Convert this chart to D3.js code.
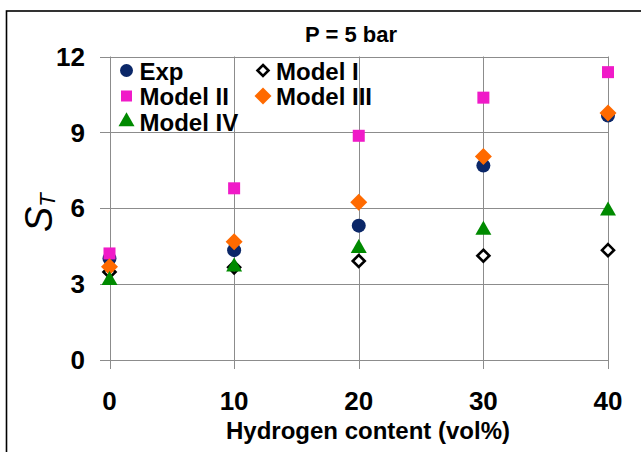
<!DOCTYPE html>
<html>
<head>
<meta charset="utf-8">
<script src="https://cdn.jsdelivr.net/npm/d3@7"></script>
<style>
  html, body { margin: 0; padding: 0; background: #fff; }
  svg { display: block; font-family: "Liberation Sans", Arial, sans-serif; }
</style>
</head>
<body>
<svg id="chart" width="641" height="452"></svg>
<script>
// ---- data ----
const hydrogen = [0, 10, 20, 30, 40];
const exp      = [4.00, 4.33, 5.30, 7.68, 9.66];
const model1   = [3.47, 3.65, 3.90, 4.11, 4.33];
const model2   = [4.20, 6.78, 8.86, 10.37, 11.38];
const model3   = [3.67, 4.66, 6.23, 8.04, 9.76];
const model4   = [3.14, 3.67, 4.40, 5.13, 5.89];
const xTicks = [0, 10, 20, 30, 40];
const yTicks = [0, 3, 6, 9, 12];
const seriesNames = ["Exp", "Model I", "Model II", "Model III", "Model IV"];
const titleText = "P = 5 bar";
const xLabel = "Hydrogen content (vol%)";

const svg = d3.select("#chart");
const x = d3.scaleLinear().domain([0, 40]).range([109.5, 608]);
const y = d3.scaleLinear().domain([0, 12]).range([359.5, 56.5]);

// outer frame
svg.append("rect").attr("x", 6.5).attr("y", 11).attr("width", 720).attr("height", 520)
  .attr("fill", "none").attr("stroke", "#000").attr("stroke-width", 1.6);

const gridColor = "#8c8c8c";
// horizontal grid + left ticks
svg.append("g").selectAll("line").data(yTicks).join("line")
  .attr("x1", 100).attr("x2", x(40))
  .attr("y1", d => Math.round(y(d)) + 0.5).attr("y2", d => Math.round(y(d)) + 0.5)
  .attr("stroke", gridColor).attr("stroke-width", 1);
// vertical grid + bottom ticks
svg.append("g").selectAll("line").data(xTicks).join("line")
  .attr("x1", d => Math.round(x(d)) + 0.5).attr("x2", d => Math.round(x(d)) + 0.5)
  .attr("y1", y(12)).attr("y2", 369)
  .attr("stroke", gridColor).attr("stroke-width", 1);

// tick labels
svg.append("g").selectAll("text").data(yTicks).join("text")
  .attr("x", 85).attr("y", d => y(d)).attr("dy", "0.36em")
  .attr("text-anchor", "end").attr("font-size", 26).attr("font-weight", "bold")
  .text(d => d);
svg.append("g").selectAll("text").data(xTicks).join("text")
  .attr("x", d => x(d)).attr("y", 410)
  .attr("text-anchor", "middle").attr("font-size", 26).attr("font-weight", "bold")
  .text(d => d);

// title
svg.append("text").attr("x", 351).attr("y", 42).attr("text-anchor", "middle")
  .attr("font-size", 22).attr("font-weight", "bold").text(titleText);

// x label
svg.append("text").attr("x", 368).attr("y", 439).attr("text-anchor", "middle")
  .attr("font-size", 24).attr("font-weight", "bold").text(xLabel);

// y label S_T
const yl = svg.append("text").attr("transform", "translate(52,232) rotate(-90)")
  .attr("font-size", 38).attr("font-style", "italic");
yl.append("tspan").text("S");
yl.append("tspan").attr("font-size", 22).attr("dy", 3).text("T");

// markers
const colors = { exp: "#0b2768", m2: "#f01ac8", m3: "#ff6a00", m4: "#008a00" };
const sym = (type, size) => d3.symbol().type(type).size(size)();
const diamondPath = (r) => `M0,${-r}L${r},0L0,${r}L${-r},0Z`;
const triPath = (w, h) => `M0,${-h*2/3}L${w/2},${h/3}L${-w/2},${h/3}Z`;

const drawSeries = (vals, draw) => {
  const g = svg.append("g");
  vals.forEach((v, i) => draw(g.append("g").attr("transform", `translate(${x(hydrogen[i])},${y(v)})`)));
};
const drawExp = (g, r = 7) => g.append("circle").attr("r", r).attr("fill", colors.exp);
const drawM1 = (g, r = 6) => g.append("path").attr("d", diamondPath(r)).attr("fill", "#fff")
  .attr("stroke", "#000").attr("stroke-width", 2.6);
const drawM2 = (g, s = 12) => g.append("rect").attr("x", -s/2).attr("y", -s/2).attr("width", s).attr("height", s)
  .attr("fill", colors.m2);
const drawM3 = (g, r = 8.5) => g.append("path").attr("d", diamondPath(r)).attr("fill", colors.m3);
const drawM4 = (g) => g.append("path").attr("d", triPath(16, 14)).attr("fill", colors.m4);

drawSeries(exp, g => drawExp(g));
drawSeries(model1, g => drawM1(g));
drawSeries(model2, g => drawM2(g));
drawSeries(model3, g => drawM3(g));
drawSeries(model4, g => drawM4(g));

// legend
const legendItems = [
  { name: seriesNames[0], mx: 126.5, my: 70.5, draw: g => drawExp(g, 6.5) },
  { name: seriesNames[1], mx: 263, my: 70.5, draw: g => drawM1(g, 5.5) },
  { name: seriesNames[2], mx: 126.5, my: 96, draw: g => drawM2(g, 11) },
  { name: seriesNames[3], mx: 263, my: 96, draw: g => drawM3(g, 8.5) },
  { name: seriesNames[4], mx: 126.5, my: 121.5, draw: g => drawM4(g) }
];
const lg = svg.append("g");
legendItems.forEach(it => {
  it.draw(lg.append("g").attr("transform", `translate(${it.mx},${it.my})`));
  lg.append("text").attr("x", it.mx + 13).attr("y", it.my + 9)
    .attr("font-size", 24).attr("font-weight", "bold").text(it.name);
});
</script>
</body>
</html>
